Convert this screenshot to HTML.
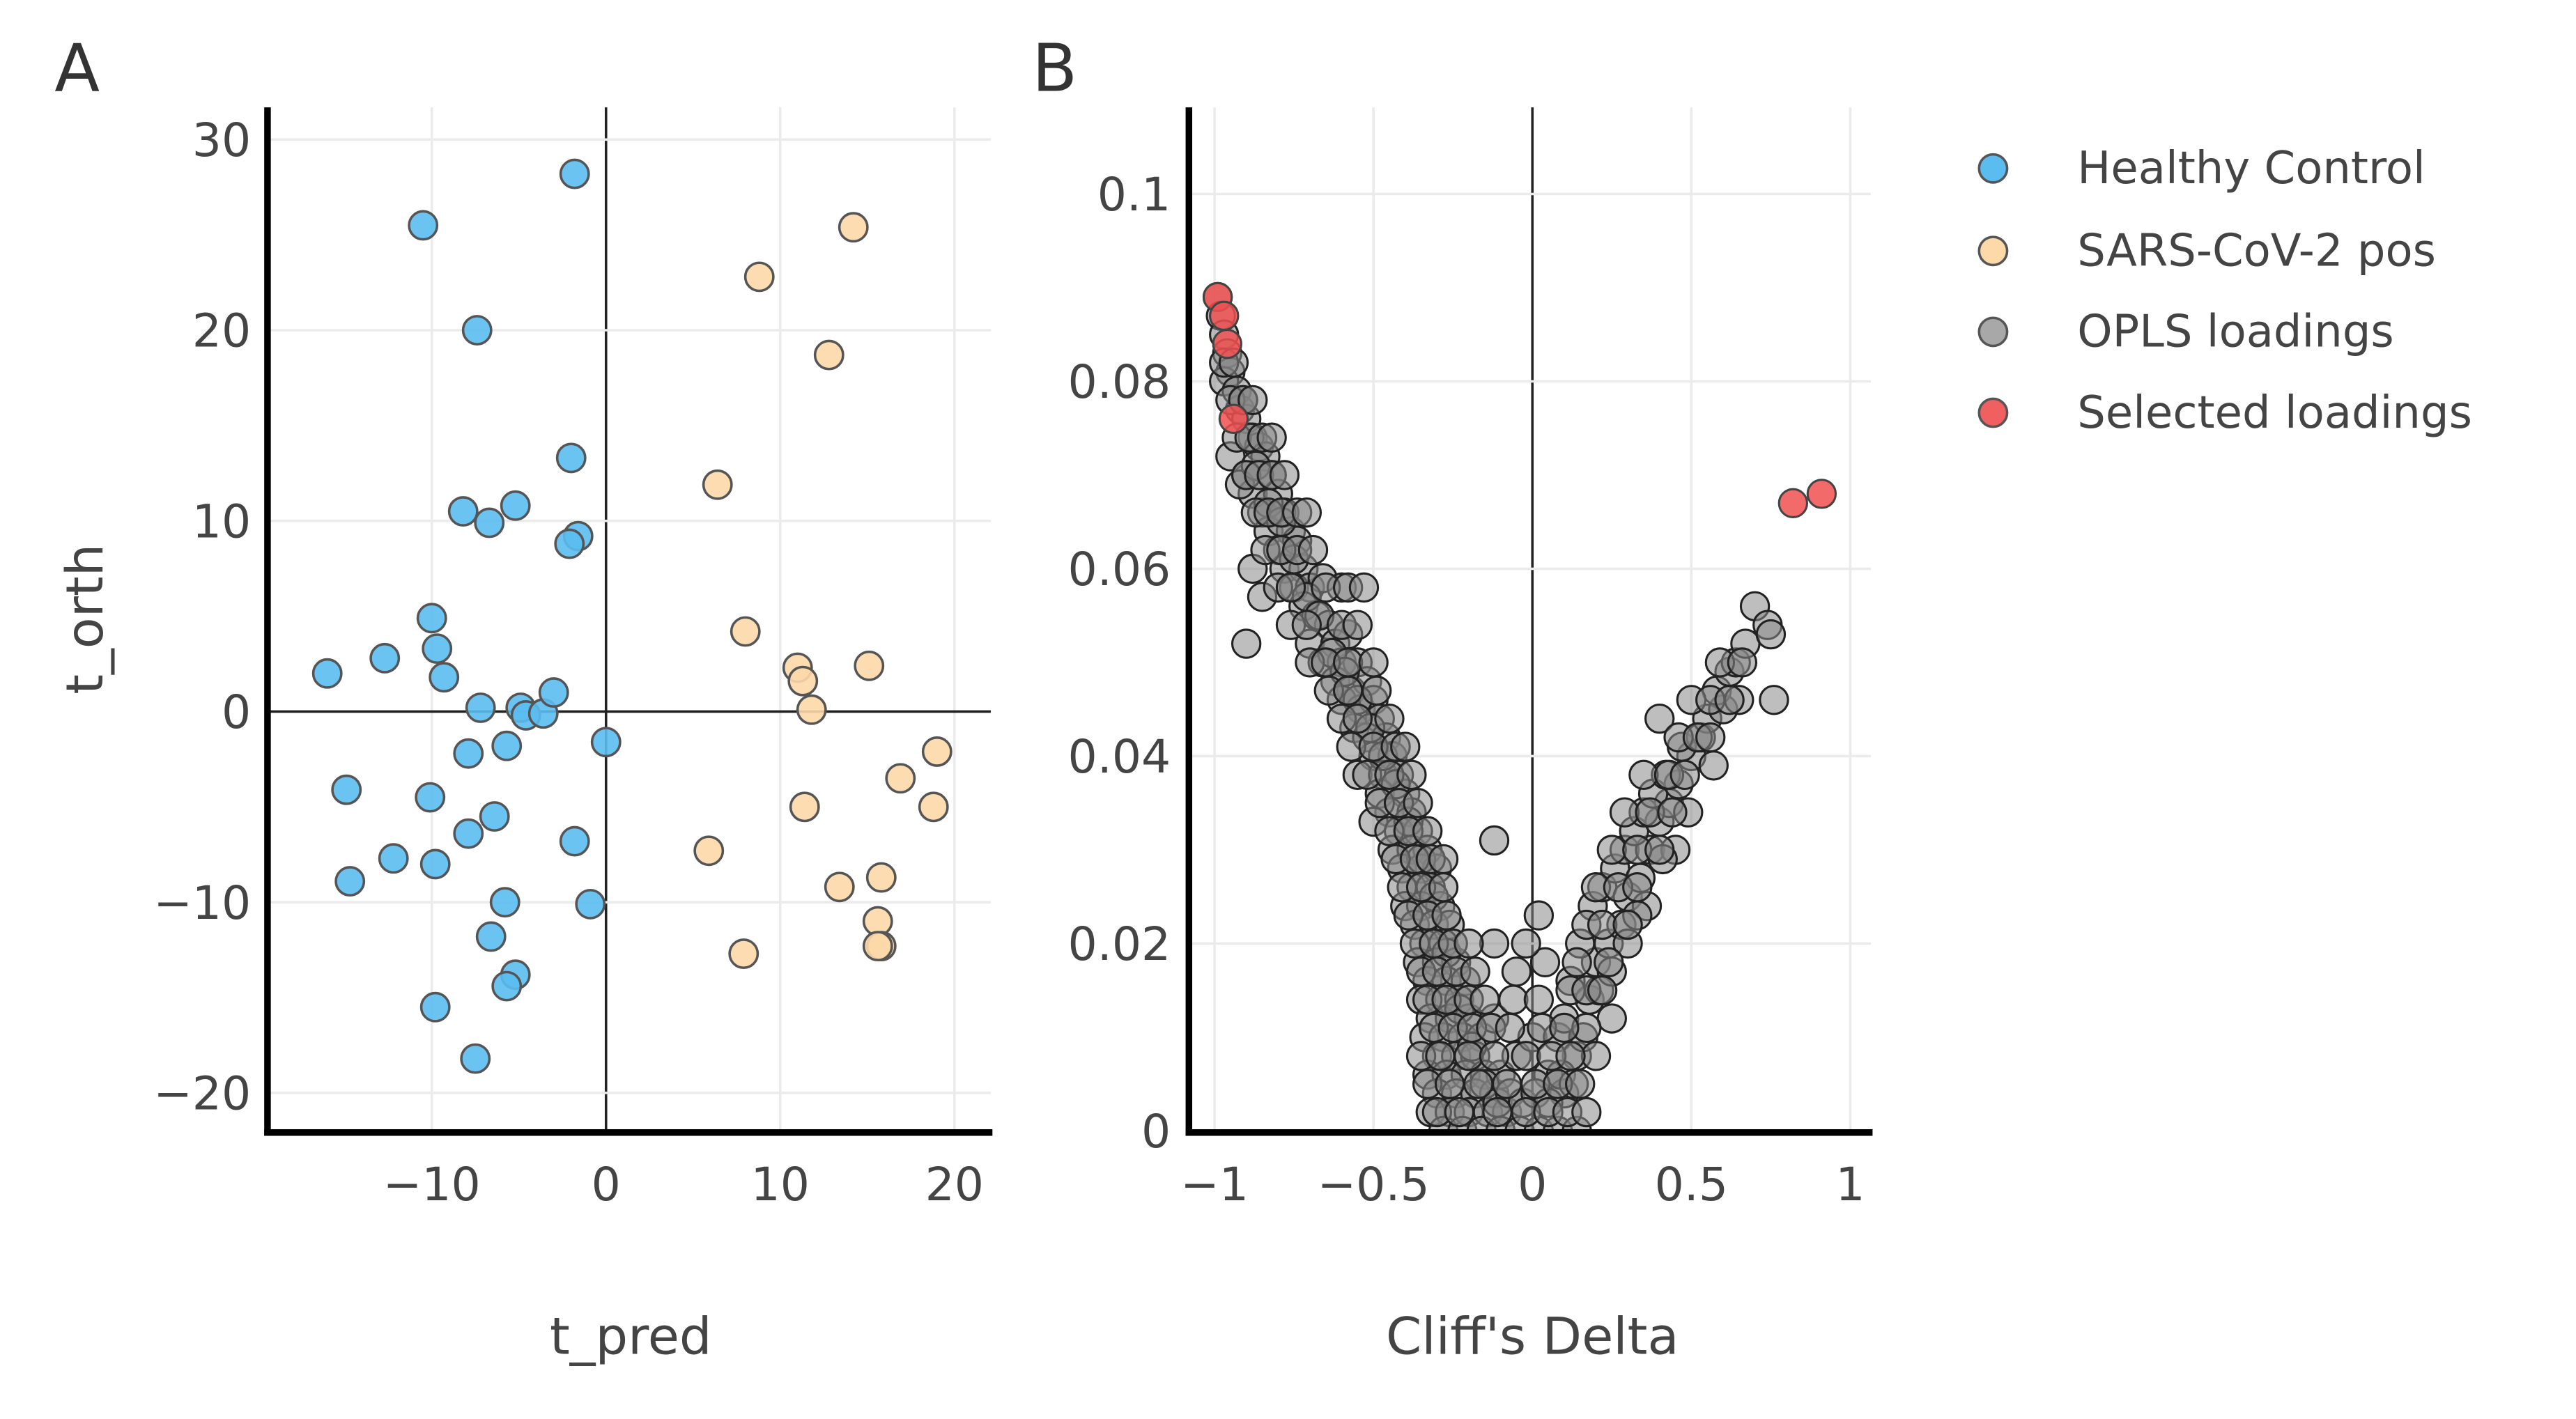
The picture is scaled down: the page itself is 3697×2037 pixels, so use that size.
<!DOCTYPE html>
<html><head><meta charset="utf-8"><style>
html,body{margin:0;padding:0;background:#fff;}
svg{display:block;font-family:"DejaVu Sans","Liberation Sans",sans-serif;}
</style></head><body>
<svg id="fig" width="3697" height="2037" viewBox="0 0 1560 859.5" xmlns="http://www.w3.org/2000/svg">
<g id="pa"></g>
<g id="pb"></g>
<text x="33" y="55" font-size="40" fill="#333">A</text>
<text x="625" y="55" font-size="40" fill="#333">B</text>
<text x="382" y="820" font-size="31" fill="#444" text-anchor="middle">t_pred</text>
<text x="0" y="0" font-size="31" fill="#444" text-anchor="middle" transform="translate(62,375) rotate(-90)">t_orth</text>
<text x="928" y="820" font-size="31" fill="#444" text-anchor="middle">Cliff's Delta</text>
<g font-size="27" fill="#444">
<g><circle cx="1207" cy="102" r="8.5" fill="#5bbcf0" stroke="#555" stroke-width="1.5"/><text x="1258" y="111">Healthy Control</text></g>
<g><circle cx="1207" cy="152" r="8.5" fill="#fdd8a8" stroke="#555" stroke-width="1.5"/><text x="1258" y="161">SARS-CoV-2 pos</text></g>
<g><circle cx="1207" cy="201" r="8.5" fill="#a8a8a8" stroke="#555" stroke-width="1.5"/><text x="1258" y="210">OPLS loadings</text></g>
<g><circle cx="1207" cy="250" r="8.5" fill="#f06060" stroke="#555" stroke-width="1.5"/><text x="1258" y="259">Selected loadings</text></g>
</g>
</svg>
<script>
const NS="http://www.w3.org/2000/svg";
// Panel A data
const healthyX=[-1.8,-10.5,-7.4,-2,-8.2,-6.7,-5.2,-1.6,-2.1,-10,-9.7,-9.3,-12.7,-16,-7.2,-4.9,-4.6,-3.6,-3,0,-7.9,-5.7,-14.9,-10.1,-6.4,-7.9,-1.8,-12.2,-9.8,-14.7,-5.8,-0.9,-6.6,-5.2,-5.7,-9.8,-7.5];
const healthyY=[28.2,25.5,20,13.3,10.5,9.9,10.8,9.2,8.8,4.9,3.3,1.8,2.8,2,0.2,0.2,-0.2,-0.1,1,-1.6,-2.2,-1.8,-4.1,-4.5,-5.5,-6.4,-6.8,-7.7,-8,-8.9,-10,-10.1,-11.8,-13.8,-14.4,-15.5,-18.2];
const sarsX=[14.2,8.8,12.8,6.4,8,11,11.3,15.1,11.8,19,16.9,18.8,11.4,5.9,13.4,15.8,15.6,15.8,15.6,7.9];
const sarsY=[25.4,22.8,18.7,11.9,4.2,2.3,1.6,2.4,0.1,-2.1,-3.5,-5,-5,-7.3,-9.2,-8.7,-11,-12.3,-12.3,-12.7];
const aXTicks=[-10,0,10,20];
const aYTicks=[-20,-10,0,10,20,30];
// Panel B data
const oplsX=[-0.99,-0.98,-0.97,-0.96,-0.95,-0.97,-0.93,-0.92,-0.9,-0.88,-0.95,-0.86,-0.84,-0.9,-0.82,-0.88,-0.8,-0.85,-0.78,-0.92,-0.83,-0.76,-0.8,-0.74,-0.88,-0.78,-0.72,-0.75,-0.7,-0.85,-0.66,-0.6,-0.72,-0.68,-0.9,-0.64,-0.7,-0.62,-0.58,-0.66,-0.6,-0.55,-0.62,-0.57,-0.52,-0.6,-0.54,-0.5,-0.56,-0.48,-0.52,-0.46,-0.5,-0.44,-0.55,-0.47,-0.42,-0.48,-0.4,-0.45,-0.38,-0.5,-0.42,-0.36,-0.44,-0.38,-0.33,-0.41,-0.35,-0.3,-0.38,-0.32,-0.4,-0.35,-0.29,-0.37,-0.31,-0.26,-0.34,-0.28,-0.36,-0.3,-0.24,-0.33,-0.27,-0.21,-0.35,-0.29,-0.23,-0.32,-0.26,-0.2,-0.34,-0.28,-0.22,-0.16,-0.3,-0.24,-0.18,-0.33,-0.27,-0.21,-0.15,-0.3,-0.24,-0.18,-0.12,-0.32,-0.26,-0.2,-0.14,-0.08,-0.28,-0.22,-0.16,-0.1,-0.04,0.02,0.08,0.14,-0.1,-0.05,0,0.05,0.1,-0.12,-0.06,0.02,0.08,0.14,0.04,-0.02,-0.05,-0.12,0.02,-0.12,0.4,0.1,0.16,0.12,0.18,0.2,0.15,0.24,0.19,0.28,0.22,0.3,0.26,0.34,0.29,0.37,0.32,0.4,0.35,0.43,0.38,0.46,0.42,0.5,0.47,0.53,0.55,0.6,0.58,0.62,0.64,0.67,0.7,0.74,0.75,0.76,0.2,0.25,0.3,0.36,0.45,-0.91,-0.87,-0.83,-0.79,-0.75,-0.71,-0.67,-0.63,-0.59,-0.55,-0.51,-0.47,-0.43,-0.39,-0.35,-0.31,-0.27,-0.23,-0.19,-0.15,-0.11,-0.07,-0.03,0.01,0.05,0.09,0.13,0.17,0.21,0.25,0.33,0.41,0.49,0.57,0.65];
const oplsY=[0.089,0.087,0.085,0.083,0.081,0.08,0.079,0.077,0.076,0.074,0.072,0.073,0.072,0.07,0.07,0.068,0.068,0.066,0.066,0.069,0.064,0.064,0.062,0.063,0.06,0.06,0.06,0.058,0.058,0.057,0.059,0.058,0.056,0.055,0.052,0.054,0.052,0.052,0.053,0.05,0.05,0.05,0.048,0.047,0.048,0.046,0.045,0.046,0.043,0.044,0.042,0.042,0.04,0.04,0.038,0.038,0.038,0.036,0.036,0.034,0.034,0.033,0.032,0.032,0.03,0.03,0.03,0.028,0.028,0.028,0.026,0.026,0.024,0.024,0.024,0.022,0.022,0.022,0.02,0.02,0.018,0.018,0.018,0.016,0.016,0.016,0.014,0.014,0.014,0.012,0.012,0.012,0.01,0.01,0.01,0.01,0.008,0.008,0.008,0.006,0.006,0.006,0.006,0.004,0.004,0.004,0.004,0.002,0.002,0.002,0.002,0.002,0,0,0,0,0,0,0,0,0.006,0.008,0.01,0.006,0.004,0.012,0.014,0.014,0.01,0.008,0.018,0.02,0.017,0.02,0.023,0.031,0.044,0.012,0.01,0.016,0.014,0.018,0.02,0.02,0.024,0.022,0.026,0.025,0.028,0.027,0.03,0.03,0.032,0.033,0.034,0.035,0.036,0.037,0.038,0.04,0.041,0.042,0.044,0.045,0.047,0.049,0.05,0.052,0.056,0.054,0.053,0.046,0.008,0.012,0.02,0.024,0.03,0.078,0.071,0.067,0.065,0.061,0.057,0.055,0.051,0.049,0.046,0.043,0.04,0.037,0.033,0.029,0.025,0.019,0.013,0.009,0.005,0.003,0.004,0.003,0.004,0.003,0.006,0.005,0.011,0.015,0.017,0.023,0.029,0.034,0.039,0.046];
const oplsX2=[-0.97,-0.94,-0.95,-0.91,-0.88,-0.93,-0.89,-0.85,-0.82,-0.9,-0.86,-0.82,-0.78,-0.87,-0.83,-0.79,-0.74,-0.71,-0.84,-0.79,-0.74,-0.69,-0.8,-0.76,-0.65,-0.58,-0.53,-0.76,-0.71,-0.6,-0.55,-0.7,-0.65,-0.58,-0.5,-0.64,-0.58,-0.49,-0.6,-0.55,-0.45,-0.57,-0.5,-0.43,-0.4,-0.52,-0.45,-0.38,-0.48,-0.42,-0.36,-0.45,-0.39,-0.33,-0.43,-0.37,-0.32,-0.28,-0.41,-0.35,-0.28,-0.39,-0.33,-0.27,-0.37,-0.31,-0.25,-0.2,-0.35,-0.3,-0.24,-0.18,-0.33,-0.27,-0.2,-0.15,-0.31,-0.25,-0.19,-0.13,-0.07,0.03,0.1,-0.35,-0.29,-0.2,-0.12,-0.02,0.06,0.12,-0.33,-0.26,-0.17,-0.08,0.01,0.08,0.15,-0.3,-0.23,-0.11,-0.02,0.05,0.11,0.17,0.12,0.17,0.22,0.14,0.24,0.17,0.22,0.3,0.2,0.27,0.33,0.25,0.33,0.4,0.29,0.37,0.44,0.35,0.43,0.48,0.46,0.52,0.56,0.5,0.56,0.62,0.59,0.66];
const oplsY2=[0.082,0.082,0.078,0.078,0.078,0.074,0.074,0.074,0.074,0.07,0.07,0.07,0.07,0.066,0.066,0.066,0.066,0.066,0.062,0.062,0.062,0.062,0.058,0.058,0.058,0.058,0.058,0.054,0.054,0.054,0.054,0.05,0.05,0.05,0.05,0.047,0.047,0.047,0.044,0.044,0.044,0.041,0.041,0.041,0.041,0.038,0.038,0.038,0.035,0.035,0.035,0.032,0.032,0.032,0.029,0.029,0.029,0.029,0.026,0.026,0.026,0.023,0.023,0.023,0.02,0.02,0.02,0.02,0.017,0.017,0.017,0.017,0.014,0.014,0.014,0.014,0.011,0.011,0.011,0.011,0.011,0.011,0.011,0.008,0.008,0.008,0.008,0.008,0.008,0.008,0.005,0.005,0.005,0.005,0.005,0.005,0.005,0.002,0.002,0.002,0.002,0.002,0.002,0.002,0.015,0.015,0.015,0.018,0.018,0.022,0.022,0.022,0.026,0.026,0.026,0.03,0.03,0.03,0.034,0.034,0.034,0.038,0.038,0.038,0.042,0.042,0.042,0.046,0.046,0.046,0.05,0.05];
const selX=[-0.99,-0.97,-0.96,-0.94,0.82,0.91];
const selY=[0.089,0.087,0.084,0.076,0.067,0.068];
const bXTicks=[-1,-0.5,0,0.5,1];
const bXLabels=["−1","−0.5","0","0.5","1"];
const bYTicks=[0,0.02,0.04,0.06,0.08,0.1];
const bYLabels=["0","0.02","0.04","0.06","0.08","0.1"];

const ax=v=>367+v*10.55, ay=v=>431-v*11.55;
const bx=v=>928+v*192.5, by=v=>685-v*5675;
function mk(tag,attrs,parent){const e=document.createElementNS(NS,tag);for(const k in attrs)e.setAttribute(k,attrs[k]);parent.appendChild(e);return e;}
const pa=document.getElementById('pa'), pb=document.getElementById('pb');
aXTicks.forEach(t=>{const l=mk('line',{x1:ax(t),x2:ax(t),y1:65,y2:686,stroke:t===0?'#222':'#ebebeb','stroke-width':1.5},pa);


const tx=mk('text',{x:ax(t),y:727,'font-size':28,fill:'#444','text-anchor':'middle'},pa);tx.textContent=t<0?'−'+(-t):String(t);

});
aYTicks.forEach(t=>{const l=mk('line',{x1:162,x2:600,y1:ay(t),y2:ay(t),stroke:t===0?'#222':'#ebebeb','stroke-width':1.5},pa);


const tx=mk('text',{x:152,y:ay(t)+10,'font-size':28,fill:'#444','text-anchor':'end'},pa);tx.textContent=t<0?'−'+(-t):String(t);

});
healthyX.forEach((x,i)=>{const c=mk('circle',{cx:ax(x),cy:ay(healthyY[i]),r:8.5,fill:'#5bbcf0','fill-opacity':0.9,stroke:'#555','stroke-width':1.5},pa);

});
sarsX.forEach((x,i)=>{const c=mk('circle',{cx:ax(x),cy:ay(sarsY[i]),r:8.5,fill:'#fdd8a8','fill-opacity':0.9,stroke:'#555','stroke-width':1.5},pa);

});
let a1=mk('line',{x1:162,x2:162,y1:65,y2:688,stroke:'#000','stroke-width':4},pa);


let a2=mk('line',{x1:160,x2:601,y1:686,y2:686,stroke:'#000','stroke-width':4},pa);


bXTicks.forEach((t,i)=>{const l=mk('line',{x1:bx(t),x2:bx(t),y1:65,y2:686,stroke:t===0?'#222':'#ebebeb','stroke-width':1.5},pb);


const tx=mk('text',{x:bx(t),y:727,'font-size':28,fill:'#444','text-anchor':'middle'},pb);tx.textContent=bXLabels[i];

});
bYTicks.forEach((t,i)=>{if(t!==0){const l=mk('line',{x1:720,x2:1133,y1:by(t),y2:by(t),stroke:'#ebebeb','stroke-width':1.5},pb);

}
const tx=mk('text',{x:709,y:by(t)+10,'font-size':28,fill:'#444','text-anchor':'end'},pb);tx.textContent=bYLabels[i];

});
const cp=mk('clipPath',{id:'cb'},pb);mk('rect',{x:720,y:60,width:414,height:626},cp);
const gb=mk('g',{'clip-path':'url(#cb)'},pb);


const allX=oplsX.concat(oplsX2), allY=oplsY.concat(oplsY2);
allX.forEach((x,i)=>{const c=mk('circle',{cx:bx(x),cy:by(allY[i]),r:8.5,fill:'#888','fill-opacity':0.55,stroke:'#222','stroke-width':1.3},gb);

});
selX.forEach((x,i)=>{const c=mk('circle',{cx:bx(x),cy:by(selY[i]),r:8.5,fill:'#f05050','fill-opacity':0.85,stroke:'#444','stroke-width':1.3},gb);

});
let b1=mk('line',{x1:720,x2:720,y1:65,y2:688,stroke:'#000','stroke-width':4},pb);


let b2=mk('line',{x1:718,x2:1134,y1:686,y2:686,stroke:'#000','stroke-width':4},pb);


</script>
</body></html>
